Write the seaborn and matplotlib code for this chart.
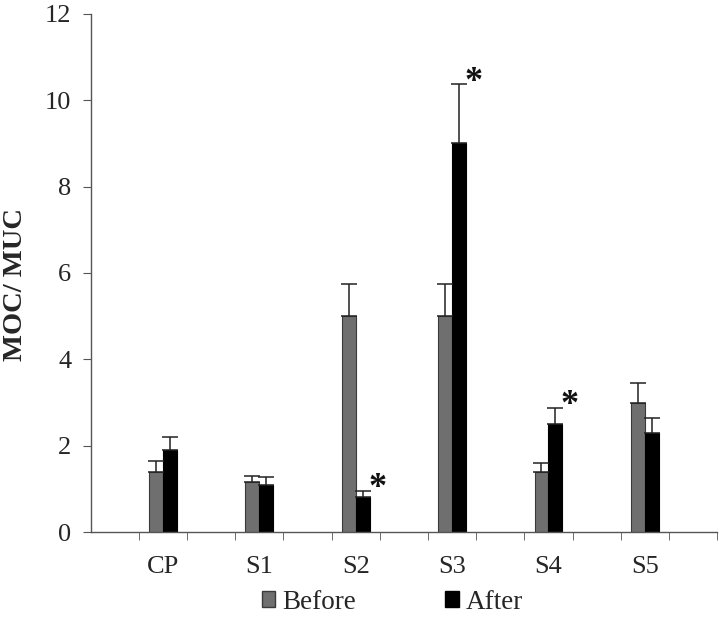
import numpy as np
import pandas as pd
import matplotlib
matplotlib.use("Agg")
import matplotlib.pyplot as plt
import seaborn as sns
from matplotlib.patches import Patch

# Data
groups = ["CP", "S1", "S2", "S3", "S4", "S5"]
before = [1.4, 1.15, 5.0, 5.0, 1.4, 3.0]
before_err = [0.25, 0.15, 0.75, 0.75, 0.2, 0.45]
after = [1.9, 1.1, 0.82, 9.0, 2.5, 2.3]
after_err = [0.3, 0.17, 0.13, 1.37, 0.37, 0.35]
starred = ["S2", "S3", "S4"]  # significant "After" bars

# Excel-style layout: an empty slot between every group
slots = []
for i, g in enumerate(groups):
    slots.append("_gap%d" % i)
    slots.append(g)
slots.append("_gap_end")

df = pd.DataFrame({
    "group": groups * 2,
    "value": before + after,
    "err": before_err + after_err,
    "phase": ["Before"] * len(groups) + ["After"] * len(groups),
})

sns.set_style("white")
plt.rcParams["font.family"] = ["Liberation Serif", "DejaVu Serif"]

fig = plt.figure(figsize=(7.2, 6.26), dpi=100)
ax = fig.add_axes([0.126, 0.150, 0.870, 0.828])

colors = {"Before": "#6f6f6f", "After": "#000000"}
sns.barplot(data=df, x="group", y="value", hue="phase", order=slots,
            hue_order=["Before", "After"], palette=colors, width=0.58,
            errorbar=None, legend=False, ax=ax, saturation=1)

# edges, error bars and significance stars
err_lookup = {(r.phase, r.group): (r.value, r.err) for r in df.itertuples()}
for container, phase in zip(ax.containers, ["Before", "After"]):
    for bar in container:
        h = bar.get_height()
        if np.isnan(h) or h == 0:
            continue
        xc = bar.get_x() + bar.get_width() / 2
        slot = slots[int(round(xc))]
        val, err = err_lookup[(phase, slot)]
        bar.set_edgecolor("#3a3a3a" if phase == "Before" else "#000000")
        bar.set_linewidth(0.8)
        ax.errorbar(xc, val, yerr=[[0], [err]], fmt="none", ecolor="#222222",
                    elinewidth=1.1, capsize=6, capthick=1.1)
        if phase == "After" and slot in starred:
            ax.text(xc + 0.3, val + err + 0.05, "*", fontsize=26, fontweight="bold",
                    ha="center", va="center", color="#111111")

ax.set_ylim(0, 12)
ax.set_xlim(-0.5, len(slots) - 0.5)
ax.set_yticks(np.arange(0, 13, 2))
ax.tick_params(axis="y", labelsize=19, length=6, color="#555555", direction="out",
               left=True, pad=8)

ax.set_xticks([slots.index(g) for g in groups])
ax.set_xticklabels(groups, fontsize=19)
ax.set_xticks(np.arange(-0.5, len(slots), 1)[1:], minor=True)
ax.tick_params(axis="x", which="major", length=0, pad=17)
ax.tick_params(axis="x", which="minor", length=6, color="#555555", direction="out", bottom=True)

for side in ["top", "right"]:
    ax.spines[side].set_visible(False)
for side in ["left", "bottom"]:
    ax.spines[side].set_color("#555555")
    ax.spines[side].set_linewidth(1.0)

ax.set_xlabel("")
ax.set_ylabel("MOC/ MUC", fontsize=20.5, fontweight="bold")
ax.yaxis.set_label_coords(-0.1, 0.477)

handles = [Patch(facecolor=colors["Before"], edgecolor="#3a3a3a", label="Before"),
           Patch(facecolor=colors["After"], edgecolor="#000000", label="After")]
fig.legend(handles=handles, loc="center", bbox_to_anchor=(0.545, 0.038), ncol=2,
           frameon=False, fontsize=19.5, handlelength=0.5, handleheight=0.5,
           handletextpad=0.26, columnspacing=3.3)

fig.savefig("out.png", dpi=100)
